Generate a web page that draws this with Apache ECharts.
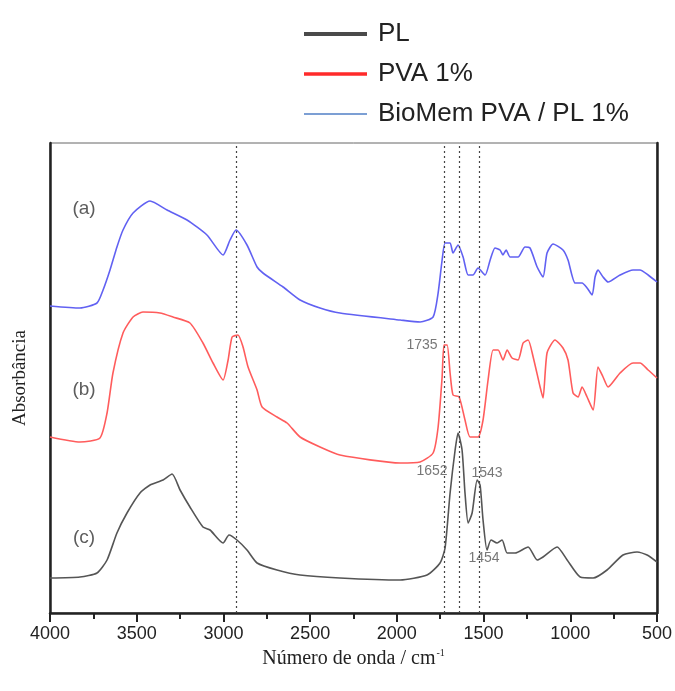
<!DOCTYPE html>
<html>
<head>
<meta charset="utf-8">
<script src="https://cdn.jsdelivr.net/npm/echarts@6/dist/echarts.min.js"></script>
<style>
  html, body { margin: 0; padding: 0; background: #fff; }
  #chart { width: 675px; height: 691px; }
</style>
</head>
<body>
<div id="chart"></div>
<script>
// espectros FTIR, absorbância em unidades arbitrárias (deslocadas)
var seriesNames = ['PL', 'PVA 1%', 'BioMem PVA / PL 1%'];

// (c) PL
var plData = [
  [4000, 35], [3827, 36], [3729, 40], [3671, 53], [3614, 80], [3556, 100], [3481, 120],
  [3423, 128], [3348, 133], [3296, 139], [3250, 123], [3193, 106], [3118, 86], [3077, 83],
  [3002, 70], [2968, 78], [2922, 73], [2864, 63], [2806, 50], [2691, 43], [2558, 38],
  [2328, 35], [1981, 33], [1826, 38], [1751, 50], [1722, 65], [1693, 120], [1664, 163],
  [1647, 180], [1624, 163], [1607, 120], [1589, 90], [1566, 100], [1537, 133], [1520, 128],
  [1503, 93], [1480, 63], [1457, 73], [1422, 70], [1393, 73], [1364, 60], [1318, 60],
  [1243, 66], [1191, 53], [1157, 56], [1076, 66], [1018, 53], [943, 36], [868, 35],
  [788, 43], [696, 58], [615, 61], [557, 58], [500, 51]
];

// (b) PVA 1%
var pvaData = [
  [4000, 176], [3827, 171], [3712, 175], [3671, 200], [3637, 240], [3579, 280], [3521, 296],
  [3464, 301], [3366, 300], [3291, 296], [3193, 290], [3118, 270], [3060, 250], [3002, 233],
  [2973, 253], [2950, 276], [2916, 278], [2887, 266], [2858, 246], [2806, 223], [2777, 206],
  [2691, 196], [2633, 190], [2558, 176], [2443, 166], [2328, 158], [1981, 150], [1866, 151],
  [1791, 160], [1762, 186], [1739, 236], [1728, 268], [1710, 268], [1693, 240], [1676, 218],
  [1641, 216], [1607, 193], [1578, 176], [1532, 176], [1503, 193], [1474, 233], [1445, 263],
  [1416, 263], [1388, 253], [1364, 263], [1336, 255], [1301, 253], [1272, 270], [1243, 273],
  [1214, 256], [1174, 226], [1157, 215], [1134, 260], [1088, 273], [1042, 265], [1013, 253],
  [984, 220], [955, 216], [932, 226], [903, 216], [868, 203], [840, 246], [811, 236],
  [782, 226], [713, 240], [638, 250], [598, 250], [551, 243], [500, 235]
];

// (a) BioMem PVA / PL 1%
var bioData = [
  [4000, 307], [3827, 305], [3729, 310], [3694, 323], [3654, 343], [3614, 366], [3579, 383],
  [3521, 400], [3423, 412], [3325, 403], [3210, 393], [3095, 378], [3002, 358], [2962, 373],
  [2927, 383], [2864, 368], [2806, 346], [2772, 340], [2656, 326], [2558, 313], [2443, 305],
  [2328, 300], [1981, 293], [1866, 291], [1791, 296], [1762, 320], [1739, 353], [1722, 370],
  [1693, 370], [1676, 360], [1647, 368], [1618, 356], [1589, 338], [1561, 338], [1532, 345],
  [1491, 338], [1462, 353], [1434, 365], [1405, 363], [1388, 358], [1370, 363], [1347, 356],
  [1301, 356], [1261, 366], [1232, 365], [1191, 346], [1157, 336], [1134, 360], [1099, 369],
  [1042, 363], [1013, 353], [972, 330], [932, 330], [903, 325], [874, 318], [857, 336],
  [840, 343], [811, 336], [782, 331], [713, 338], [638, 343], [598, 343], [551, 338],
  [500, 331]
];

var guideLines = [2925, 1724, 1642, 1527];

var panelLabels = [
  [3804, 404, '(a)'],
  [3804, 223, '(b)'],
  [3804, 75, '(c)']
];
var peakLabels = [
  [1855, 268, '1735'],
  [1797, 142, '1652'],
  [1480, 140, '1543'],
  [1497, 55, '1454']
];

var curveColors = ['#555555', '#ff5c5c', '#6161f2'];
var legendColors = ['#4a4a4a', '#ff2a2a', '#7c9fd4'];
var legendWidths = [4, 3.5, 2];

var myChart = echarts.init(document.getElementById('chart'));

function curve(name, data, color, extra) {
  var s = {
    name: name,
    type: 'line',
    data: data,
    showSymbol: false,
    symbol: 'none',
    smooth: 0.2,
    lineStyle: { color: color, width: 1.6 },
    itemStyle: { color: color },
    z: 3
  };
  if (extra) Object.assign(s, extra);
  return s;
}

function textLayer(items, size, color) {
  return {
    type: 'scatter',
    data: items.map(function (d) { return { value: [d[0], d[1]], name: d[2] }; }),
    symbolSize: 0,
    silent: true,
    label: {
      show: true,
      position: 'inside',
      formatter: '{b}',
      fontFamily: 'Liberation Sans, Arial, sans-serif',
      fontSize: size,
      color: color
    },
    z: 5
  };
}

myChart.setOption({
  animation: false,
  legend: {
    orient: 'vertical',
    left: 297,
    top: 16,
    itemWidth: 63,
    itemHeight: 26,
    itemGap: 14,
    textStyle: {
      fontFamily: 'Liberation Sans, Arial, sans-serif',
      fontSize: 26,
      lineHeight: 26,
      color: '#222',
      padding: [0, 0, 0, 6]
    },
    data: seriesNames.map(function (n, i) {
      return {
        name: n,
        lineStyle: { color: legendColors[i], width: legendWidths[i] },
        itemStyle: { color: legendColors[i], opacity: 0 }
      };
    })
  },
  grid: {
    left: 50,
    right: 18,
    top: 143,
    bottom: 78,
    show: true,
    borderColor: '#666',
    borderWidth: 1
  },
  xAxis: {
    type: 'value',
    inverse: true,
    min: 500,
    max: 4000,
    interval: 500,
    name: 'Número de onda / cm{sup|-1}',
    nameLocation: 'middle',
    nameGap: 34,
    nameTextStyle: {
      fontFamily: 'Liberation Serif, Times New Roman, serif',
      fontSize: 20,
      color: '#222',
      rich: {
        sup: {
          fontFamily: 'Liberation Serif, serif',
          fontSize: 10,
          color: '#222',
          verticalAlign: 'top',
          padding: [0, 0, 12, 1]
        }
      }
    },
    axisLine: { lineStyle: { color: '#222', width: 2.5 } },
    axisTick: { show: true, length: 9, lineStyle: { color: '#222', width: 2 } },
    minorTick: { show: true, splitNumber: 2, length: 6, lineStyle: { color: '#222', width: 2 } },
    axisLabel: {
      margin: 12,
      fontFamily: 'Liberation Sans, Arial, sans-serif',
      fontSize: 18,
      color: '#222',
      formatter: function (v) { return String(v); }
    },
    splitLine: { show: false }
  },
  yAxis: [{
    type: 'value',
    min: 0,
    max: 470,
    name: 'Absorbância',
    nameLocation: 'middle',
    nameGap: 20,
    nameTextStyle: {
      fontFamily: 'Liberation Serif, Times New Roman, serif',
      fontSize: 19,
      color: '#222'
    },
    axisLine: { show: true, lineStyle: { color: '#222', width: 2.5 } },
    axisTick: { show: false },
    axisLabel: { show: false },
    splitLine: { show: false }
  }, {
    type: 'value',
    position: 'right',
    min: 0,
    max: 470,
    axisLine: { show: true, lineStyle: { color: '#222', width: 2.5 } },
    axisTick: { show: false },
    axisLabel: { show: false },
    splitLine: { show: false }
  }],
  series: [
    curve(seriesNames[0], plData, curveColors[0], {
      markLine: {
        silent: true,
        symbol: ['none', 'none'],
        label: { show: false },
        lineStyle: { color: '#444', width: 1.2, type: [2, 3] },
        data: guideLines.map(function (v) { return { xAxis: v }; })
      }
    }),
    curve(seriesNames[1], pvaData, curveColors[1]),
    curve(seriesNames[2], bioData, curveColors[2]),
    textLayer(panelLabels, 19, '#333'),
    textLayer(peakLabels, 14, '#555')
  ]
});
</script>
</body>
</html>
